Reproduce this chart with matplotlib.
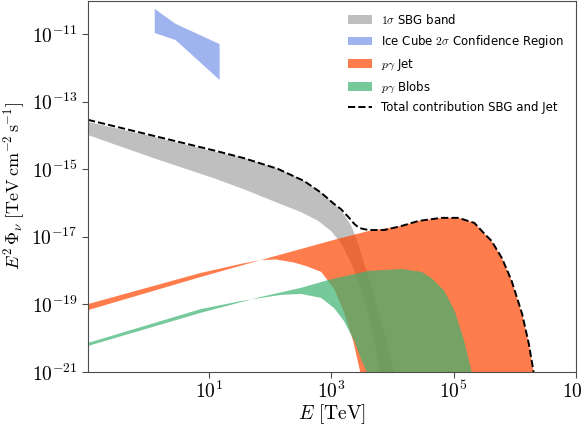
import numpy as np
import matplotlib
matplotlib.use("Agg")
import matplotlib.pyplot as plt
from matplotlib.ticker import FixedLocator, FuncFormatter, NullLocator

plt.rcParams['mathtext.fontset'] = 'cm'
plt.rcParams['font.family'] = ['DejaVu Sans']

# all values are log10(E / TeV) and log10(E^2 Phi / TeV cm^-2 s^-1)

# IceCube 2 sigma region
ic_logE = [0.12, 0.46, 1.18]
ic_upper = [-10.26, -10.70, -11.30]
ic_lower = [-10.97, -11.18, -12.36]

# SBG 1 sigma band
sbg_up_logE = [-0.97, 0.05, 1.12, 1.57, 2.13, 2.56, 2.84, 3.05, 3.21, 3.33, 3.44,
               3.54, 3.66, 3.77, 3.89, 3.97, 4.03, 4.10]
sbg_upper = [-13.60, -14.02, -14.49, -14.67, -14.99, -15.35, -15.70, -16.03, -16.33,
             -16.68, -17.18, -17.78, -18.46, -19.20, -19.94, -20.53, -21.03, -22.0]
sbg_lo_logE = [-0.97, 0.05, 1.12, 1.57, 2.13, 2.51, 2.79, 3.00, 3.16, 3.33, 3.46,
               3.57, 3.67, 3.74, 3.79, 3.85]
sbg_lower = [-13.99, -14.64, -15.29, -15.59, -16.00, -16.27, -16.53, -16.83, -17.18,
             -17.78, -18.40, -19.05, -19.79, -20.38, -21.03, -22.0]

# p gamma jet: high-cutoff and low-cutoff edges
jet_a_logE = [-0.97, 0.87, 1.85, 2.51, 3.05, 3.61, 4.15, 4.43, 4.80, 5.08, 5.34,
              5.51, 5.62, 5.79, 5.95, 6.12, 6.23, 6.31, 6.35]
jet_a = [-19.17, -18.19, -17.69, -17.36, -17.09, -16.83, -16.68, -16.53, -16.44,
         -16.44, -16.59, -16.92, -17.12, -17.63, -18.31, -19.28, -20.17, -21.03, -22.0]
jet_b_logE = [-0.97, 0.87, 1.53, 1.85, 2.10, 2.39, 2.60, 2.84, 3.05, 3.21, 3.36,
              3.48, 3.52]
jet_b = [-18.99, -18.07, -17.80, -17.69, -17.67, -17.76, -17.87, -18.04, -18.54,
         -19.22, -20.08, -21.03, -22.0]

# p gamma blobs
blob_c_logE = [-0.97, 0.87, 1.85, 2.51, 2.95, 3.61, 4.15, 4.48, 4.64, 4.85, 5.02,
               5.16, 5.30, 5.33]
blob_c = [-20.23, -19.25, -18.78, -18.51, -18.28, -18.01, -17.95, -18.04, -18.22,
          -18.60, -19.20, -19.99, -21.03, -22.0]
blob_d_logE = [-0.97, 0.87, 1.53, 1.85, 2.18, 2.51, 2.84, 3.05, 3.21, 3.38, 3.49,
               3.59, 3.64]
blob_d = [-20.14, -19.14, -18.90, -18.81, -18.72, -18.69, -18.81, -19.11, -19.49,
          -20.08, -20.62, -21.03, -22.0]

# total SBG + jet
tot_logE = [-0.97, 0.05, 1.12, 1.57, 2.13, 2.56, 2.84, 3.05, 3.16, 3.28, 3.38, 3.46,
            3.61, 3.87, 4.15, 4.43, 4.80, 5.08, 5.34, 5.51, 5.62, 5.79, 5.95, 6.12,
            6.23, 6.31, 6.35]
tot = [-13.54, -13.99, -14.46, -14.67, -14.99, -15.35, -15.70, -16.03, -16.18, -16.41,
       -16.62, -16.74, -16.80, -16.80, -16.68, -16.53, -16.44, -16.44, -16.59, -16.92,
       -17.12, -17.63, -18.31, -19.28, -20.17, -21.03, -22.0]

x_ticks = [1e1, 1e3, 1e5, 1e7]
y_ticks = [1e-21, 1e-19, 1e-17, 1e-15, 1e-13, 1e-11]


def band(ax, xa, ya, xb, yb, **kw):
    x = 10 ** np.concatenate([xa, xb[::-1]])
    y = 10 ** np.concatenate([ya, yb[::-1]])
    return ax.fill(x, y, lw=0, **kw)[0]


def pow_label(v, pos):
    return r'$10^{%d}$' % int(round(np.log10(v)))


fig = plt.figure(figsize=(5.84, 4.25), dpi=100)
ax = fig.add_axes([0.1507, 0.1247, 0.8356, 0.8733])
ax.set_xscale('log')
ax.set_yscale('log')

h_sbg = band(ax, np.array(sbg_up_logE), np.array(sbg_upper),
             np.array(sbg_lo_logE), np.array(sbg_lower), color='gray', alpha=0.5)
h_ic = band(ax, np.array(ic_logE), np.array(ic_upper),
            np.array(ic_logE), np.array(ic_lower), color='royalblue', alpha=0.5)
h_jet = band(ax, np.array(jet_a_logE), np.array(jet_a),
             np.array(jet_b_logE), np.array(jet_b), color='orangered', alpha=0.7)
h_blob = band(ax, np.array(blob_c_logE), np.array(blob_c),
              np.array(blob_d_logE), np.array(blob_d), color='mediumseagreen', alpha=0.7)
h_tot, = ax.plot(10 ** np.array(tot_logE), 10 ** np.array(tot), 'k--', lw=1.4)

ax.set_xlim(10 ** -0.97, 1e7)
ax.set_ylim(1e-21, 10 ** -10.02)

ax.xaxis.set_major_locator(FixedLocator(x_ticks))
ax.yaxis.set_major_locator(FixedLocator(y_ticks))
ax.xaxis.set_major_formatter(FuncFormatter(pow_label))
ax.yaxis.set_major_formatter(FuncFormatter(pow_label))
ax.xaxis.set_minor_locator(NullLocator())
ax.yaxis.set_minor_locator(NullLocator())
ax.tick_params(labelsize=14, length=4, color='0.3')
ax.tick_params(axis='x', pad=2.5)
for s in ax.spines.values():
    s.set_color('0.3')

ax.set_xlabel(r'$E\ [\mathrm{TeV}]$', fontsize=14, labelpad=0)
ax.set_ylabel(r'$E^2\,\Phi_\nu\ [\mathrm{TeV\,cm^{-2}\,s^{-1}}]$', fontsize=13, labelpad=3)

ax.legend([h_sbg, h_ic, h_jet, h_blob, h_tot],
          [r'$1\sigma$ SBG band', r'Ice Cube $2\sigma$ Confidence Region',
           r'$p\gamma$ Jet', r'$p\gamma$ Blobs', 'Total contribution SBG and Jet'],
          loc='upper right', frameon=False, fontsize=8.5, handlelength=2.0,
          labelspacing=0.55, borderaxespad=0.6)

fig.savefig('out.png', dpi=100)
